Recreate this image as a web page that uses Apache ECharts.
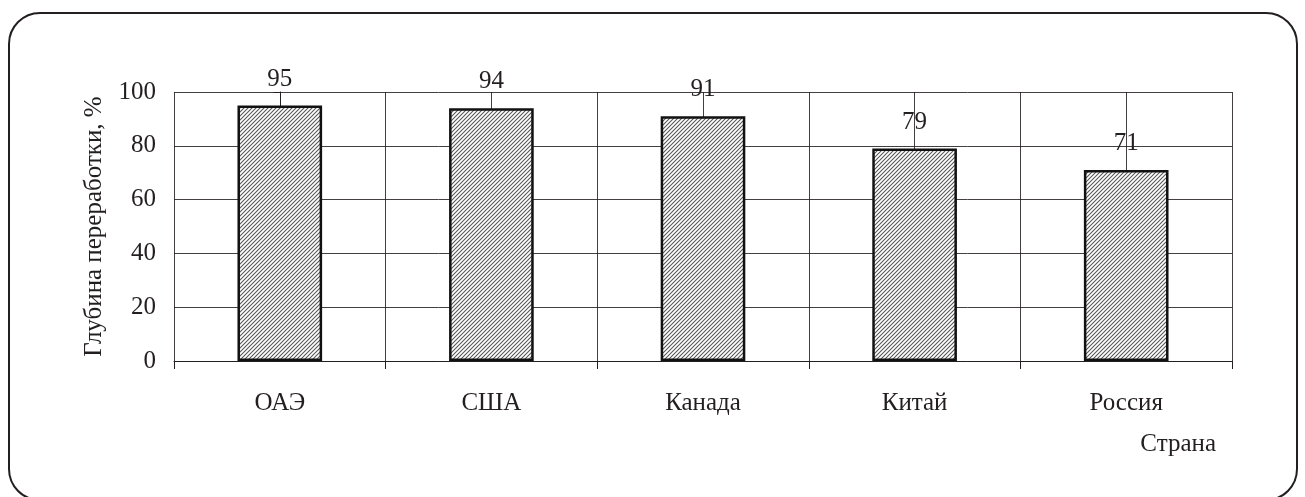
<!DOCTYPE html>
<html>
<head>
<meta charset="utf-8">
<title>Глубина переработки нефти</title>
<script src="https://cdn.jsdelivr.net/npm/echarts@6/dist/echarts.min.js"></script>
<style>
  html, body { margin: 0; padding: 0; background: #fff; }
  #chart { width: 1305px; height: 497px; }
</style>
</head>
<body>
<div id="chart"></div>
<script>
// Страны и глубина переработки нефти, %
const countries = ['ОАЭ', 'США', 'Канада', 'Китай', 'Россия'];
const depth = [95, 94, 91, 79, 71];
const yTicks = { min: 0, max: 100, step: 20 };

const ink = '#231f20';
const fontFamily = '"Liberation Serif", "Times New Roman", serif';
const fs = 25;

// Diagonal hatching for the bars
function hatchTile() {
  const s = 4;
  const c = document.createElement('canvas');
  c.width = s; c.height = s;
  const g = c.getContext('2d');
  g.fillStyle = '#ffffff';
  g.fillRect(0, 0, s, s);
  g.strokeStyle = '#555555';
  g.lineWidth = 1.05;
  g.beginPath();
  g.moveTo(-1, s + 1); g.lineTo(s + 1, -1);
  g.moveTo(-1, 1); g.lineTo(1, -1);
  g.moveTo(s - 1, s + 1); g.lineTo(s + 1, s - 1);
  g.stroke();
  return c;
}

const chart = echarts.init(document.getElementById('chart'), null, { renderer: 'canvas' });

chart.setOption({
  animation: false,
  backgroundColor: '#ffffff',
  textStyle: { fontFamily: fontFamily, color: ink },
  grid: { left: 174, right: 73, top: 92, bottom: 136, containLabel: false },
  title: {
    text: 'Страна',
    right: 84,
    top: 427,
    textStyle: { fontFamily: fontFamily, fontSize: fs, fontWeight: 'normal', color: ink }
  },
  xAxis: [
    {
      type: 'category',
      data: countries,
      boundaryGap: true,
      axisLine: { show: true, lineStyle: { color: ink, width: 1 } },
      axisTick: { show: true, length: 8, lineStyle: { color: ink, width: 1 } },
      axisLabel: { fontFamily: fontFamily, fontSize: fs, color: ink, margin: 30 },
      splitLine: { show: false }
    },
    {
      // half-category grid: boundaries and centres of every country
      type: 'value',
      position: 'bottom',
      min: -0.5,
      max: countries.length - 0.5,
      interval: 0.5,
      axisLine: { show: false },
      axisTick: { show: false },
      axisLabel: { show: false },
      splitLine: { show: true, lineStyle: { color: ink, width: 1, opacity: 0.85 } }
    }
  ],
  yAxis: {
    type: 'value',
    min: yTicks.min,
    max: yTicks.max,
    interval: yTicks.step,
    name: 'Глубина переработки, %',
    nameLocation: 'middle',
    nameGap: 67,
    nameTextStyle: { fontFamily: fontFamily, fontSize: fs, color: ink },
    axisLine: { show: true, lineStyle: { color: ink, width: 1 } },
    axisTick: { show: true, inside: false, length: 6, lineStyle: { color: ink } },
    axisLabel: { fontFamily: fontFamily, fontSize: fs, color: ink, margin: 18 },
    splitLine: { show: true, lineStyle: { color: ink, width: 1, opacity: 0.85 } }
  },
  series: [{
    type: 'bar',
    xAxisIndex: 0,
    data: depth,
    barWidth: '40%',
    itemStyle: {
      color: { image: hatchTile(), repeat: 'repeat' },
      borderColor: '#111',
      borderWidth: 2.5
    },
    label: {
      show: true,
      position: 'top',
      distance: 14,
      fontFamily: fontFamily,
      fontSize: fs,
      color: ink
    }
  }],
  graphic: [{
    type: 'rect',
    silent: true,
    z: 100,
    shape: { x: 9, y: 13, width: 1288, height: 487, r: 31 },
    style: { fill: 'none', stroke: ink, lineWidth: 2 }
  }]
});
</script>
</body>
</html>
